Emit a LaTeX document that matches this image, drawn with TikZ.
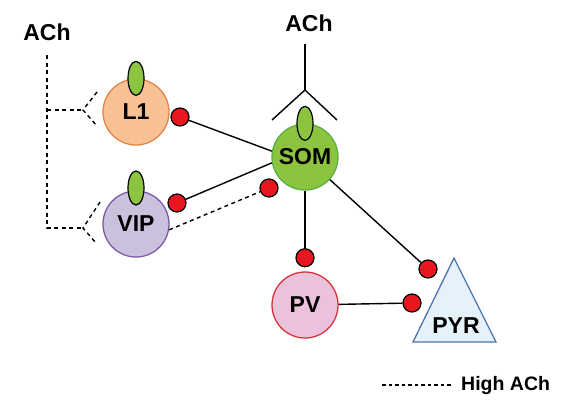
\documentclass[tikz,border=0pt]{standalone}
\usepackage{fontspec}
\setmainfont{Liberation Sans}
\usetikzlibrary{shapes.geometric, positioning}
\usepackage{xcolor}
\definecolor{lofill}{HTML}{F9BF95}
\definecolor{lodraw}{HTML}{E0884A}
\definecolor{somfill}{HTML}{8CC43F}
\definecolor{somdraw}{HTML}{5AB043}
\definecolor{vipfill}{HTML}{CCC1DC}
\definecolor{vipdraw}{HTML}{7D5BA6}
\definecolor{pvfill}{HTML}{EBC1DB}
\definecolor{pvdraw}{HTML}{D9343C}
\definecolor{pyrfill}{HTML}{E6F2FA}
\definecolor{pyrdraw}{HTML}{4F74AC}
\definecolor{synred}{HTML}{E8161E}
\tikzset{
  cell/.style = {circle, draw, line width=1.3pt, minimum size=66pt, inner sep=0pt, align=center, font=\fontsize{23}{26}\selectfont\bfseries},
  receptor/.style = {ellipse, draw, fill=somfill, line width=1.2pt, minimum width=16pt, minimum height=34pt, inner sep=0pt},
  synapse/.style = {circle, draw, fill=synred, line width=1.2pt, minimum size=18pt, inner sep=0pt},
  label/.style = {font=\fontsize{23}{26}\selectfont\bfseries, inner sep=0pt},
  conn/.style = {line width=1.4pt},
  highach/.style = {line width=1.4pt, dash pattern=on 4pt off 3.5pt}
}
\begin{document}
\begin{tikzpicture}[x=1pt, y=-1pt]
\useasboundingbox (0,0) rectangle (573,407);

% cells
\node[cell, fill=lofill, draw=lodraw] (l1) at (136,112) {L1};
\node[cell, fill=somfill, draw=somdraw] (som) at (305,157) {SOM};
\node[cell, fill=vipfill, draw=vipdraw] (vip) at (136,224) {VIP};
\node[cell, fill=pvfill, draw=pvdraw] (pv) at (305,305) {PV};
\coordinate (pyrtop) at (454,258);
\coordinate (pyrleft) at (413,342);
\coordinate (pyrright) at (496,342);
\draw[fill=pyrfill, draw=pyrdraw, line width=1.3pt] (pyrtop) -- (pyrleft) -- (pyrright) -- cycle;
\node[label] (pyr) at (456,326) {PYR};

% receptors
\node[receptor] (l1rec) at (l1.north) {};
\node[receptor] (somrec) at (som.north) {};
\node[receptor] (viprec) at (136,188) {};

% synapses
\node[synapse] (l1syn) at (180,117) {};
\node[synapse] (vipsyn) at (177,203) {};
\node[synapse] (somsyn) at (269,188) {};
\node[synapse, above=4pt of pv] (pvsyn) {};
\node[synapse] (pyrsyn1) at (428,269) {};
\node[synapse] (pyrsyn2) at (412,303) {};

\draw[conn] (l1syn) -- (som.170);
\draw[conn] (vipsyn) -- (som.190);
\draw[highach] (vip.-10) -- (somsyn);
\draw[conn] (som) -- (pvsyn);
\draw[conn] (som) -- (pyrsyn1);
\draw[conn] (pv) -- (pyrsyn2);

% ACh onto SOM
\node[label] (achtop) at (309,23) {ACh};
\coordinate (fork) at (305,90);
\coordinate (forkl) at (272,120);
\coordinate (forkr) at (337,120);
\draw[conn] (achtop.south -| fork) ++(0,12) -- (fork);
\draw[conn] (forkl) -- (fork) -- (forkr);

% ACh onto L1 and VIP (high ACh)
\node[label] (achleft) at (47,32) {ACh};
\coordinate (stemtop) at (47,55);
\coordinate (stembot) at (47,228);
\coordinate (l1fork) at (83,110);
\coordinate (vipfork) at (83,228);
\draw[highach] (stemtop) -- (stembot) -- (vipfork);
\draw[highach] (l1fork -| stemtop) -- (l1fork);
\draw[highach] (97,92) -- (l1fork) -- (97,126);
\draw[highach] (100,202) -- (vipfork) -- (96,243);

% legend
\coordinate (legl) at (382,385);
\node[font=\fontsize{19.5}{22}\selectfont\bfseries, inner sep=0pt, anchor=west] (legend) at (461,385) {High ACh};
\draw[line width=1.3pt, dash pattern=on 3.5pt off 3pt] (legl) -- (legend.west -| 452,0);

\end{tikzpicture}
\end{document}
